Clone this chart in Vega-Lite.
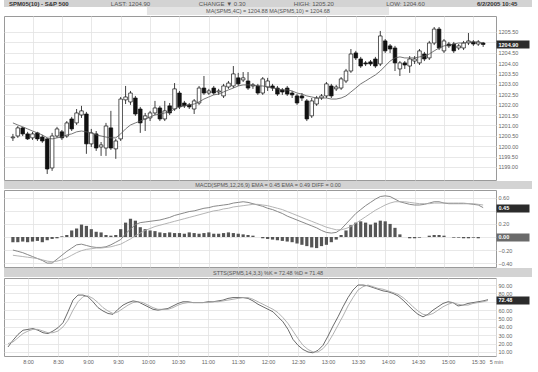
{
"$schema":"https://vega.github.io/schema/vega-lite/v6.json",
"padding":{"left":3,"top":0,"right":0,"bottom":0},
"background":"white",
"spacing":0,
"config":{"font":"Liberation Sans","view":{"stroke":"#9a9a9a","strokeWidth":1},
"axis":{"labelFont":"Liberation Sans","labelFontSize":5.5,"labelColor":"#666","gridColor":"#e2e2e2","gridWidth":0.8,"domain":false,"ticks":false,"labelOverlap":false}},
"datasets":{"bars":[
{"n":0,"o":1200.40,"h":1200.59,"l":1200.25,"c":1200.44,"ma":1201.12,"macd":-0.20,"sig":-0.28,"hist":-0.08,"k":16,"d":20},
{"n":1,"o":1200.49,"h":1200.97,"l":1200.40,"c":1200.88,"ma":1201.02,"macd":-0.22,"sig":-0.29,"hist":-0.08,"k":24,"d":22},
{"n":2,"o":1200.88,"h":1200.93,"l":1200.49,"c":1200.59,"ma":1200.93,"macd":-0.24,"sig":-0.30,"hist":-0.07,"k":31,"d":27},
{"n":3,"o":1200.59,"h":1200.69,"l":1200.30,"c":1200.35,"ma":1200.83,"macd":-0.27,"sig":-0.31,"hist":-0.08,"k":36,"d":32},
{"n":4,"o":1200.40,"h":1200.69,"l":1200.30,"c":1200.59,"ma":1200.73,"macd":-0.30,"sig":-0.32,"hist":-0.07,"k":37,"d":35},
{"n":5,"o":1200.64,"h":1200.69,"l":1200.25,"c":1200.35,"ma":1200.64,"macd":-0.33,"sig":-0.33,"hist":-0.06,"k":38,"d":37},
{"n":6,"o":1200.44,"h":1200.54,"l":1200.16,"c":1200.25,"ma":1200.54,"macd":-0.36,"sig":-0.35,"hist":-0.08,"k":36,"d":37},
{"n":7,"o":1200.35,"h":1200.40,"l":1198.66,"c":1198.90,"ma":1200.40,"macd":-0.40,"sig":-0.37,"hist":-0.05,"k":33,"d":35},
{"n":8,"o":1198.95,"h":1200.64,"l":1198.81,"c":1200.49,"ma":1200.35,"macd":-0.40,"sig":-0.38,"hist":-0.03,"k":32,"d":33},
{"n":9,"o":1200.49,"h":1200.93,"l":1200.40,"c":1200.83,"ma":1200.40,"macd":-0.34,"sig":-0.37,"hist":-0.02,"k":35,"d":33},
{"n":10,"o":1200.69,"h":1200.78,"l":1200.30,"c":1200.40,"ma":1200.44,"macd":-0.28,"sig":-0.35,"hist":0.01,"k":39,"d":35},
{"n":11,"o":1200.49,"h":1201.21,"l":1200.40,"c":1201.12,"ma":1200.54,"macd":-0.22,"sig":-0.32,"hist":0.03,"k":45,"d":40},
{"n":12,"o":1201.31,"h":1201.41,"l":1200.73,"c":1200.83,"ma":1200.59,"macd":-0.17,"sig":-0.28,"hist":0.10,"k":58,"d":48},
{"n":13,"o":1201.12,"h":1201.79,"l":1201.02,"c":1201.60,"ma":1200.69,"macd":-0.12,"sig":-0.24,"hist":0.13,"k":72,"d":60},
{"n":14,"o":1201.50,"h":1201.94,"l":1201.36,"c":1201.70,"ma":1200.73,"macd":-0.11,"sig":-0.21,"hist":0.19,"k":78,"d":70},
{"n":15,"o":1201.55,"h":1201.65,"l":1199.63,"c":1200.11,"ma":1200.69,"macd":-0.13,"sig":-0.19,"hist":0.17,"k":78,"d":76},
{"n":16,"o":1200.11,"h":1200.83,"l":1199.96,"c":1200.64,"ma":1200.64,"macd":-0.15,"sig":-0.18,"hist":0.12,"k":76,"d":77},
{"n":17,"o":1200.59,"h":1200.73,"l":1199.77,"c":1199.91,"ma":1200.54,"macd":-0.16,"sig":-0.17,"hist":0.08,"k":70,"d":74},
{"n":18,"o":1199.96,"h":1200.20,"l":1199.53,"c":1200.06,"ma":1200.49,"macd":-0.16,"sig":-0.17,"hist":0.07,"k":63,"d":69},
{"n":19,"o":1199.91,"h":1201.12,"l":1199.53,"c":1200.97,"ma":1200.44,"macd":-0.15,"sig":-0.16,"hist":0.03,"k":59,"d":63},
{"n":20,"o":1200.88,"h":1201.70,"l":1199.82,"c":1199.91,"ma":1200.40,"macd":-0.12,"sig":-0.15,"hist":0.02,"k":56,"d":59},
{"n":21,"o":1199.87,"h":1200.35,"l":1199.39,"c":1200.25,"ma":1200.40,"macd":-0.08,"sig":-0.13,"hist":0.03,"k":55,"d":56},
{"n":22,"o":1200.35,"h":1202.37,"l":1200.25,"c":1202.27,"ma":1200.59,"macd":-0.04,"sig":-0.11,"hist":0.12,"k":61,"d":58},
{"n":23,"o":1202.23,"h":1202.90,"l":1202.03,"c":1202.37,"ma":1200.83,"macd":0.05,"sig":-0.07,"hist":0.22,"k":66,"d":62},
{"n":24,"o":1202.13,"h":1202.66,"l":1201.99,"c":1202.56,"ma":1201.02,"macd":0.12,"sig":-0.03,"hist":0.28,"k":69,"d":66},
{"n":25,"o":1202.32,"h":1202.42,"l":1201.46,"c":1201.55,"ma":1201.12,"macd":0.19,"sig":0.02,"hist":0.25,"k":71,"d":69},
{"n":26,"o":1201.79,"h":1201.89,"l":1200.64,"c":1201.12,"ma":1201.21,"macd":0.22,"sig":0.06,"hist":0.15,"k":70,"d":70},
{"n":27,"o":1201.31,"h":1201.60,"l":1200.73,"c":1201.46,"ma":1201.31,"macd":0.23,"sig":0.10,"hist":0.12,"k":67,"d":69},
{"n":28,"o":1201.36,"h":1201.70,"l":1201.21,"c":1201.60,"ma":1201.41,"macd":0.24,"sig":0.13,"hist":0.10,"k":64,"d":66},
{"n":29,"o":1201.60,"h":1202.18,"l":1201.50,"c":1201.84,"ma":1201.50,"macd":0.25,"sig":0.16,"hist":0.09,"k":61,"d":63},
{"n":30,"o":1201.84,"h":1201.94,"l":1201.21,"c":1201.31,"ma":1201.55,"macd":0.26,"sig":0.18,"hist":0.07,"k":60,"d":61},
{"n":31,"o":1201.31,"h":1202.18,"l":1201.21,"c":1201.70,"ma":1201.60,"macd":0.28,"sig":0.20,"hist":0.06,"k":61,"d":61},
{"n":32,"o":1201.94,"h":1202.08,"l":1201.50,"c":1201.60,"ma":1201.65,"macd":0.30,"sig":0.22,"hist":0.07,"k":62,"d":61},
{"n":33,"o":1201.79,"h":1203.04,"l":1201.70,"c":1202.76,"ma":1201.79,"macd":0.33,"sig":0.24,"hist":0.06,"k":65,"d":63},
{"n":34,"o":1202.56,"h":1202.66,"l":1201.79,"c":1201.89,"ma":1201.89,"macd":0.35,"sig":0.26,"hist":0.06,"k":68,"d":66},
{"n":35,"o":1202.08,"h":1202.18,"l":1201.84,"c":1201.94,"ma":1201.94,"macd":0.37,"sig":0.28,"hist":0.05,"k":70,"d":68},
{"n":36,"o":1201.99,"h":1202.08,"l":1201.79,"c":1201.89,"ma":1201.99,"macd":0.39,"sig":0.30,"hist":0.07,"k":70,"d":69},
{"n":37,"o":1201.79,"h":1202.27,"l":1201.55,"c":1202.18,"ma":1202.03,"macd":0.40,"sig":0.32,"hist":0.06,"k":69,"d":69},
{"n":38,"o":1202.08,"h":1202.90,"l":1201.99,"c":1202.80,"ma":1202.13,"macd":0.42,"sig":0.34,"hist":0.05,"k":69,"d":69},
{"n":39,"o":1202.80,"h":1203.38,"l":1202.47,"c":1202.56,"ma":1202.27,"macd":0.44,"sig":0.36,"hist":0.06,"k":69,"d":69},
{"n":40,"o":1202.56,"h":1202.76,"l":1202.47,"c":1202.66,"ma":1202.37,"macd":0.45,"sig":0.38,"hist":0.07,"k":70,"d":69},
{"n":41,"o":1202.80,"h":1202.90,"l":1202.47,"c":1202.56,"ma":1202.47,"macd":0.47,"sig":0.40,"hist":0.05,"k":70,"d":70},
{"n":42,"o":1202.61,"h":1202.76,"l":1202.47,"c":1202.66,"ma":1202.51,"macd":0.48,"sig":0.41,"hist":0.05,"k":71,"d":70},
{"n":43,"o":1202.42,"h":1203.00,"l":1202.32,"c":1202.90,"ma":1202.61,"macd":0.49,"sig":0.43,"hist":0.06,"k":72,"d":71},
{"n":44,"o":1202.85,"h":1203.14,"l":1202.76,"c":1203.04,"ma":1202.71,"macd":0.50,"sig":0.44,"hist":0.07,"k":74,"d":72},
{"n":45,"o":1202.90,"h":1203.86,"l":1202.80,"c":1203.48,"ma":1202.80,"macd":0.52,"sig":0.46,"hist":0.06,"k":75,"d":73},
{"n":46,"o":1203.29,"h":1203.53,"l":1202.90,"c":1203.00,"ma":1202.90,"macd":0.53,"sig":0.47,"hist":0.05,"k":75,"d":74},
{"n":47,"o":1203.19,"h":1203.57,"l":1203.09,"c":1203.29,"ma":1202.95,"macd":0.54,"sig":0.48,"hist":0.04,"k":75,"d":75},
{"n":48,"o":1203.14,"h":1203.57,"l":1202.71,"c":1202.80,"ma":1202.95,"macd":0.53,"sig":0.49,"hist":0.03,"k":74,"d":75},
{"n":49,"o":1202.90,"h":1203.04,"l":1202.76,"c":1202.95,"ma":1202.95,"macd":0.51,"sig":0.50,"hist":0.02,"k":71,"d":73},
{"n":50,"o":1202.90,"h":1203.00,"l":1202.47,"c":1202.56,"ma":1202.90,"macd":0.49,"sig":0.50,"hist":0.00,"k":67,"d":70},
{"n":51,"o":1202.56,"h":1203.33,"l":1202.47,"c":1203.24,"ma":1202.90,"macd":0.47,"sig":0.49,"hist":-0.02,"k":64,"d":67},
{"n":52,"o":1202.85,"h":1203.29,"l":1202.66,"c":1203.14,"ma":1202.85,"macd":0.44,"sig":0.48,"hist":-0.03,"k":61,"d":64},
{"n":53,"o":1202.90,"h":1203.00,"l":1202.66,"c":1202.80,"ma":1202.80,"macd":0.42,"sig":0.46,"hist":-0.04,"k":58,"d":61},
{"n":54,"o":1202.80,"h":1202.90,"l":1202.42,"c":1202.51,"ma":1202.76,"macd":0.39,"sig":0.44,"hist":-0.05,"k":52,"d":57},
{"n":55,"o":1202.71,"h":1202.80,"l":1202.47,"c":1202.61,"ma":1202.71,"macd":0.36,"sig":0.42,"hist":-0.06,"k":46,"d":51},
{"n":56,"o":1202.80,"h":1202.90,"l":1202.42,"c":1202.51,"ma":1202.71,"macd":0.32,"sig":0.39,"hist":-0.07,"k":37,"d":44},
{"n":57,"o":1202.56,"h":1202.66,"l":1202.32,"c":1202.47,"ma":1202.66,"macd":0.29,"sig":0.36,"hist":-0.08,"k":25,"d":35},
{"n":58,"o":1202.42,"h":1202.51,"l":1201.99,"c":1202.08,"ma":1202.56,"macd":0.26,"sig":0.33,"hist":-0.10,"k":18,"d":26},
{"n":59,"o":1202.42,"h":1202.56,"l":1202.18,"c":1202.32,"ma":1202.51,"macd":0.23,"sig":0.30,"hist":-0.12,"k":13,"d":18},
{"n":60,"o":1202.18,"h":1202.27,"l":1201.21,"c":1201.31,"ma":1202.42,"macd":0.20,"sig":0.27,"hist":-0.14,"k":10,"d":13},
{"n":61,"o":1201.46,"h":1202.32,"l":1201.36,"c":1202.18,"ma":1202.37,"macd":0.17,"sig":0.24,"hist":-0.16,"k":9,"d":10},
{"n":62,"o":1202.03,"h":1202.42,"l":1201.94,"c":1202.32,"ma":1202.32,"macd":0.14,"sig":0.21,"hist":-0.17,"k":12,"d":10},
{"n":63,"o":1202.32,"h":1202.51,"l":1202.23,"c":1202.42,"ma":1202.32,"macd":0.10,"sig":0.18,"hist":-0.14,"k":18,"d":14},
{"n":64,"o":1202.42,"h":1203.09,"l":1202.32,"c":1203.00,"ma":1202.32,"macd":0.07,"sig":0.15,"hist":-0.12,"k":29,"d":21},
{"n":65,"o":1202.90,"h":1203.00,"l":1202.32,"c":1202.42,"ma":1202.27,"macd":0.06,"sig":0.13,"hist":-0.08,"k":41,"d":31},
{"n":66,"o":1202.76,"h":1202.95,"l":1202.66,"c":1202.85,"ma":1202.27,"macd":0.07,"sig":0.11,"hist":-0.04,"k":52,"d":42},
{"n":67,"o":1202.80,"h":1203.33,"l":1202.71,"c":1203.24,"ma":1202.32,"macd":0.12,"sig":0.11,"hist":0.03,"k":64,"d":53},
{"n":68,"o":1203.14,"h":1203.72,"l":1203.04,"c":1203.62,"ma":1202.42,"macd":0.20,"sig":0.13,"hist":0.10,"k":75,"d":65},
{"n":69,"o":1203.62,"h":1204.68,"l":1203.53,"c":1204.44,"ma":1202.61,"macd":0.28,"sig":0.16,"hist":0.18,"k":84,"d":75},
{"n":70,"o":1204.49,"h":1204.59,"l":1204.15,"c":1204.25,"ma":1202.80,"macd":0.36,"sig":0.21,"hist":0.22,"k":90,"d":84},
{"n":71,"o":1204.20,"h":1204.30,"l":1203.77,"c":1203.86,"ma":1203.00,"macd":0.42,"sig":0.26,"hist":0.24,"k":90,"d":88},
{"n":72,"o":1204.01,"h":1204.10,"l":1203.86,"c":1203.96,"ma":1203.14,"macd":0.48,"sig":0.31,"hist":0.22,"k":89,"d":90},
{"n":73,"o":1204.06,"h":1204.15,"l":1203.86,"c":1203.96,"ma":1203.29,"macd":0.53,"sig":0.36,"hist":0.19,"k":87,"d":88},
{"n":74,"o":1204.20,"h":1204.30,"l":1203.77,"c":1203.86,"ma":1203.43,"macd":0.58,"sig":0.41,"hist":0.22,"k":85,"d":86},
{"n":75,"o":1203.96,"h":1205.55,"l":1203.86,"c":1205.31,"ma":1203.62,"macd":0.62,"sig":0.45,"hist":0.25,"k":83,"d":85},
{"n":76,"o":1205.07,"h":1205.16,"l":1204.49,"c":1204.59,"ma":1203.86,"macd":0.63,"sig":0.49,"hist":0.24,"k":82,"d":83},
{"n":77,"o":1204.83,"h":1204.92,"l":1204.49,"c":1204.68,"ma":1204.10,"macd":0.62,"sig":0.52,"hist":0.20,"k":80,"d":81},
{"n":78,"o":1204.73,"h":1204.83,"l":1203.62,"c":1204.01,"ma":1204.25,"macd":0.58,"sig":0.54,"hist":0.14,"k":77,"d":79},
{"n":79,"o":1203.72,"h":1204.10,"l":1203.38,"c":1204.01,"ma":1204.30,"macd":0.54,"sig":0.54,"hist":0.04,"k":72,"d":75},
{"n":80,"o":1204.01,"h":1204.10,"l":1203.72,"c":1203.91,"ma":1204.25,"macd":0.52,"sig":0.54,"hist":0.00,"k":66,"d":70},
{"n":81,"o":1203.86,"h":1204.34,"l":1203.53,"c":1204.20,"ma":1204.25,"macd":0.50,"sig":0.53,"hist":-0.02,"k":60,"d":64},
{"n":82,"o":1204.10,"h":1204.34,"l":1203.96,"c":1204.20,"ma":1204.25,"macd":0.49,"sig":0.52,"hist":-0.02,"k":55,"d":59},
{"n":83,"o":1204.01,"h":1204.68,"l":1203.91,"c":1204.59,"ma":1204.30,"macd":0.49,"sig":0.51,"hist":-0.01,"k":52,"d":55},
{"n":84,"o":1204.44,"h":1204.54,"l":1204.10,"c":1204.20,"ma":1204.34,"macd":0.50,"sig":0.51,"hist":0.00,"k":55,"d":54},
{"n":85,"o":1204.25,"h":1205.07,"l":1204.15,"c":1204.97,"ma":1204.44,"macd":0.52,"sig":0.51,"hist":0.02,"k":60,"d":56},
{"n":86,"o":1204.97,"h":1205.74,"l":1204.87,"c":1205.64,"ma":1204.59,"macd":0.54,"sig":0.52,"hist":0.03,"k":64,"d":60},
{"n":87,"o":1205.64,"h":1205.74,"l":1204.63,"c":1204.73,"ma":1204.73,"macd":0.54,"sig":0.52,"hist":0.03,"k":68,"d":64},
{"n":88,"o":1204.59,"h":1205.16,"l":1204.49,"c":1205.07,"ma":1204.83,"macd":0.52,"sig":0.52,"hist":0.02,"k":70,"d":67},
{"n":89,"o":1204.92,"h":1205.02,"l":1204.73,"c":1204.83,"ma":1204.87,"macd":0.51,"sig":0.52,"hist":0.00,"k":69,"d":69},
{"n":90,"o":1204.92,"h":1205.02,"l":1204.49,"c":1204.59,"ma":1204.92,"macd":0.51,"sig":0.52,"hist":-0.01,"k":65,"d":67},
{"n":91,"o":1204.73,"h":1204.92,"l":1204.63,"c":1204.83,"ma":1204.97,"macd":0.51,"sig":0.52,"hist":-0.01,"k":66,"d":66},
{"n":92,"o":1204.73,"h":1205.07,"l":1204.63,"c":1204.97,"ma":1204.97,"macd":0.51,"sig":0.52,"hist":-0.02,"k":68,"d":66},
{"n":93,"o":1204.97,"h":1205.45,"l":1204.87,"c":1205.07,"ma":1205.02,"macd":0.51,"sig":0.51,"hist":-0.02,"k":69,"d":68},
{"n":94,"o":1205.02,"h":1205.11,"l":1204.83,"c":1204.92,"ma":1205.02,"macd":0.50,"sig":0.51,"hist":-0.01,"k":70,"d":69},
{"n":95,"o":1204.92,"h":1205.11,"l":1204.83,"c":1205.02,"ma":1205.02,"macd":0.49,"sig":0.50,"hist":-0.02,"k":71,"d":70},
{"n":96,"o":1204.97,"h":1205.02,"l":1204.78,"c":1204.90,"ma":1204.97,"macd":0.45,"sig":0.49,"hist":0.00,"k":72.48,"d":71.48}
]},
"vconcat":[
{"width":528,"height":7,"view":{"fill":"#d3d3d3","stroke":null},
 "data":{"values":[{"item":"symbol","label":"SPM05(10) - S&P 500"},{"item":"last","label":"LAST: 1204.90"},{"item":"change","label":"CHANGE ▼ 0.30"},{"item":"high","label":"HIGH: 1205.20"},{"item":"low","label":"LOW: 1204.60"},{"item":"date","label":"6/2/2005 10:45"}]},
 "encoding":{"x":{"field":"item","type":"nominal","scale":{"type":"point","padding":0.38,"domain":["symbol","last","change","high","low","date"]},"axis":null},"text":{"field":"label"}},
 "layer":[
  {"transform":[{"filter":"datum.item == 'symbol' || datum.item == 'date'"}],"mark":{"type":"text","fontSize":6,"fontWeight":"bold","color":"#333","baseline":"middle"}},
  {"transform":[{"filter":"datum.item != 'symbol' && datum.item != 'date'"}],"mark":{"type":"text","fontSize":6,"color":"#555","baseline":"middle"}}
 ]},
{"width":528,"height":8,"view":{"stroke":null},
 "data":{"values":[{"item":"ma","label":"MA(SPM5,4C) = 1204.88   MA(SPM5,10) = 1204.68"}]},
 "encoding":{"x":{"field":"item","type":"nominal","scale":{"type":"band","paddingInner":0,"paddingOuter":0.59},"axis":null}},
 "layer":[
  {"mark":{"type":"rect","color":"#e4e4e4"}},
  {"mark":{"type":"text","fontSize":5.5,"color":"#555","baseline":"middle"},"encoding":{"text":{"field":"label"}}}
 ]},
{"width":492,"height":164,
 "data":{"name":"bars"},
 "encoding":{"x":{"field":"n","type":"quantitative","title":null,"scale":{"domain":[-0.8,97.6],"nice":false,"zero":false},"axis":{"labels":false,"grid":true,"values":[4,10,16,22,28,34,40,46,52,58,64,70,76,82,88,94]}}},
 "resolve":{"axis":{"y":"independent"}},
 "layer":[
  {"mark":{"type":"rule","color":"#111","strokeWidth":0.8},
   "encoding":{"y":{"field":"l","type":"quantitative","title":null,"scale":{"domain":[1198.37,1206.27],"nice":false,"zero":false},
     "axis":{"orient":"right","grid":true,"values":[1199,1199.5,1200,1200.5,1201,1201.5,1202,1202.5,1203,1203.5,1204,1204.5,1205,1205.5],"labelExpr":"datum.value == 1205 ? '' : format(datum.value, '.2f')","labelPadding":2}},
    "y2":{"field":"h"}}},
  {"mark":{"type":"bar","width":3.6,"stroke":"#111","strokeWidth":0.7},
   "encoding":{"y":{"field":"o","type":"quantitative","axis":null},"y2":{"field":"c"},
    "fill":{"condition":{"test":"datum.c < datum.o","value":"#111"},"value":"#ffffff"}}},
  {"mark":{"type":"line","color":"#555","strokeWidth":0.8},
   "encoding":{"y":{"field":"ma","type":"quantitative","title":null,
     "axis":{"orient":"right","grid":false,"values":[1204.9],"format":".2f","ticks":true,"tickSize":33,"tickWidth":8,"tickColor":"#2b2b2b","labelPadding":-31,"labelColor":"#ffffff","labelFontWeight":"bold","labelFlush":false}}}}
 ]},
{"width":528,"height":8,"view":{"fill":"#d3d3d3","stroke":null},
 "data":{"values":[{"label":"MACD(SPM5,12,26,9)  EMA = 0.45  EMA = 0.49  DIFF = 0.00"}]},
 "mark":{"type":"text","fontSize":5.5,"color":"#555","baseline":"middle"},
 "encoding":{"text":{"field":"label"}}},
{"width":492,"height":77,
 "data":{"name":"bars"},
 "encoding":{"x":{"field":"n","type":"quantitative","title":null,"scale":{"domain":[-0.8,97.6],"nice":false,"zero":false},"axis":{"labels":false,"grid":true,"values":[4,10,16,22,28,34,40,46,52,58,64,70,76,82,88,94]}}},
 "resolve":{"axis":{"y":"independent"}},
 "layer":[
  {"mark":{"type":"bar","width":3.2,"color":"#555"},
   "encoding":{"y":{"field":"hist","type":"quantitative","title":null,"scale":{"domain":[-0.46,0.72],"nice":false,"zero":false},
     "axis":{"orient":"right","grid":true,"values":[-0.4,-0.2,0,0.2,0.4,0.6],"labelExpr":"(datum.value == 0 || datum.value == 0.4) ? '' : format(datum.value, '.2f')","labelPadding":2}},
    "y2":{"datum":0}}},
  {"mark":{"type":"line","color":"#7a7a7a","strokeWidth":0.9},
   "encoding":{"y":{"field":"macd","type":"quantitative","title":null,
     "axis":{"orient":"right","grid":false,"values":[0.45],"format":".2f","ticks":true,"tickSize":33,"tickWidth":8,"tickColor":"#2b2b2b","labelPadding":-31,"labelColor":"#ffffff","labelFontWeight":"bold","labelFlush":false}}}},
  {"mark":{"type":"line","color":"#ababab","strokeWidth":0.9},
   "encoding":{"y":{"field":"sig","type":"quantitative","title":null,
     "axis":{"orient":"right","grid":false,"values":[0],"format":".2f","ticks":true,"tickSize":33,"tickWidth":8,"tickColor":"#6a6a6a","labelPadding":-31,"labelColor":"#ffffff","labelFontWeight":"bold","labelFlush":false}}}}
 ]},
{"width":528,"height":9,"view":{"fill":"#d3d3d3","stroke":null},
 "data":{"values":[{"label":"STTS(SPM5,14,3,3)  %K = 72.48  %D = 71.48"}]},
 "mark":{"type":"text","fontSize":5.5,"color":"#555","baseline":"middle"},
 "encoding":{"text":{"field":"label"}}},
{"width":492,"height":78,
 "data":{"name":"bars"},
 "encoding":{"x":{"field":"n","type":"quantitative","title":null,"scale":{"domain":[-0.8,97.6],"nice":false,"zero":false},
   "axis":{"grid":true,"labelPadding":3,"labelFlush":false,"values":[4,10,16,22,28,34,40,46,52,58,64,70,76,82,88,94,97.6],
    "labelExpr":"datum.value > 97 ? '5 min' : ['8:00','8:30','9:00','9:30','10:00','10:30','11:00','11:30','12:00','12:30','13:00','13:30','14:00','14:30','15:00','15:30'][round((datum.value - 4) / 6)]"}}},
 "resolve":{"axis":{"y":"independent"}},
 "layer":[
  {"mark":{"type":"line","color":"#5a5a5a","strokeWidth":0.9},
   "encoding":{"y":{"field":"k","type":"quantitative","title":null,"scale":{"domain":[5.2,98.4],"nice":false,"zero":false},
     "axis":{"orient":"right","grid":true,"values":[10,20,30,40,50,60,70,80,90],"labelExpr":"datum.value == 70 ? '' : format(datum.value, '.2f')","labelPadding":2}}}},
  {"mark":{"type":"line","color":"#a8a8a8","strokeWidth":0.9},
   "encoding":{"y":{"field":"d","type":"quantitative","title":null,
     "axis":{"orient":"right","grid":false,"values":[72.48],"format":".2f","ticks":true,"tickSize":33,"tickWidth":8,"tickColor":"#2b2b2b","labelPadding":-31,"labelColor":"#ffffff","labelFontWeight":"bold","labelFlush":false}}}}
 ]}
]
}
